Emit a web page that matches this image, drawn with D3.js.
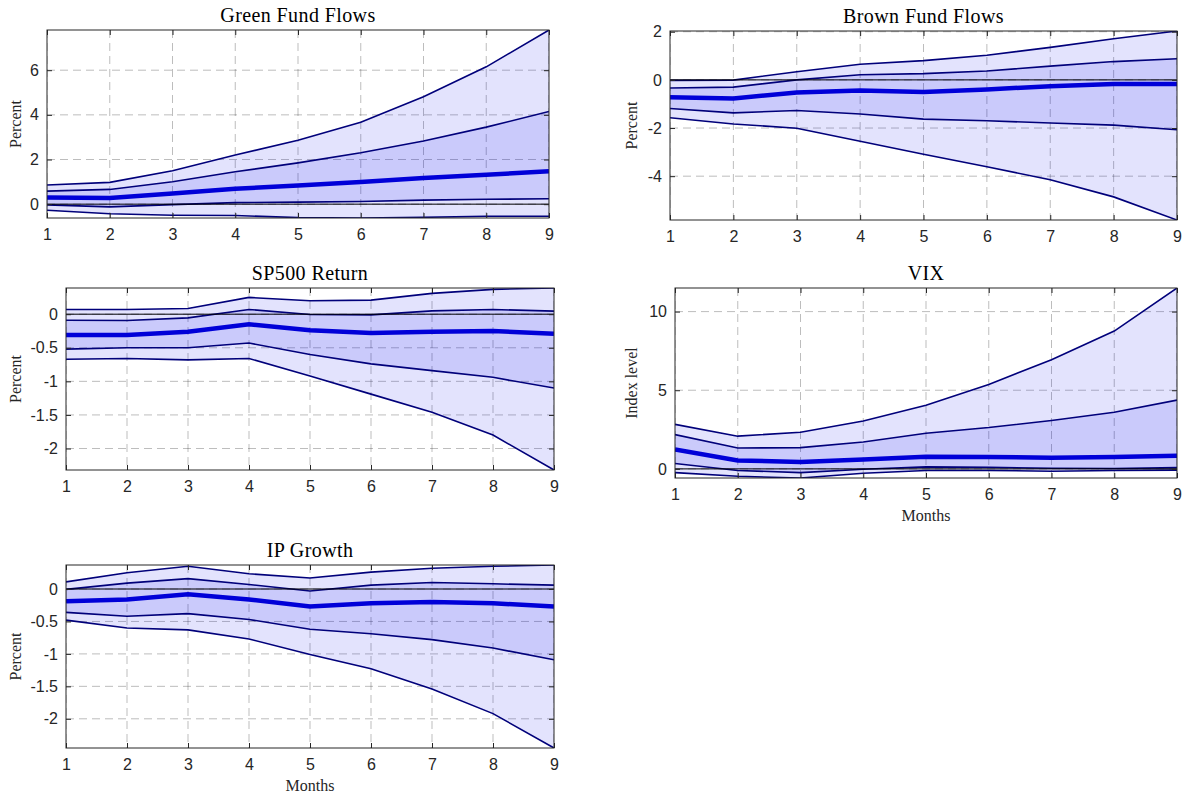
<!DOCTYPE html>
<html><head><meta charset="utf-8">
<script src="https://cdn.jsdelivr.net/npm/d3@7"></script>
<style>
body{margin:0;background:#fff;}
svg{display:block;}
.tick text{font-family:"Liberation Sans",Arial,sans-serif;font-size:16px;fill:#262626;}
.ttl{font-family:"Liberation Serif","Times New Roman",serif;font-size:20px;letter-spacing:0.4px;fill:#000;}
.lab{font-family:"Liberation Serif","Times New Roman",serif;font-size:16px;fill:#262626;}
</style></head>
<body>
<svg id="c" width="1186" height="798"></svg>
<script>
// ---- data ----
const months = [1,2,3,4,5,6,7,8,9];

const greenHi90 = [0.855,0.975,1.5,2.2,2.86,3.67,4.81,6.15,7.8];
const greenHi68 = [0.585,0.66,1.0,1.45,1.85,2.3,2.83,3.45,4.15];
const greenMed  = [0.3,0.28,0.48,0.69,0.84,0.99,1.17,1.32,1.47];
const greenLo68 = [-0.03,-0.12,-0.02,0.07,0.09,0.12,0.18,0.22,0.24];
const greenLo90 = [-0.27,-0.43,-0.5,-0.51,-0.6,-0.62,-0.59,-0.54,-0.54];
const greenTicks = [0,2,4,6];

const brownHi90 = [-0.02,-0.01,0.34,0.65,0.8,1.02,1.35,1.71,2.03];
const brownHi68 = [-0.34,-0.3,0.0,0.21,0.26,0.37,0.57,0.76,0.88];
const brownMed  = [-0.72,-0.77,-0.52,-0.44,-0.5,-0.4,-0.26,-0.17,-0.17];
const brownLo68 = [-1.19,-1.37,-1.27,-1.42,-1.63,-1.7,-1.79,-1.88,-2.07];
const brownLo90 = [-1.57,-1.83,-2.01,-2.55,-3.09,-3.61,-4.15,-4.86,-5.82];
const brownTicks = [-4,-2,0,2];

const spHi90 = [0.07,0.07,0.085,0.25,0.2,0.21,0.31,0.37,0.39];
const spHi68 = [-0.09,-0.095,-0.055,0.07,-0.005,-0.01,0.05,0.07,0.045];
const spMed  = [-0.31,-0.31,-0.26,-0.15,-0.24,-0.28,-0.26,-0.25,-0.29];
const spLo68 = [-0.52,-0.5,-0.5,-0.43,-0.6,-0.74,-0.84,-0.94,-1.1];
const spLo90 = [-0.67,-0.66,-0.68,-0.66,-0.92,-1.19,-1.46,-1.8,-2.32];
const spTicks = [-2,-1.5,-1,-0.5,0];

const vixHi90 = [2.83,2.08,2.33,3.04,4.05,5.37,6.94,8.76,11.5];
const vixHi68 = [2.18,1.33,1.35,1.71,2.27,2.63,3.08,3.6,4.37];
const vixMed  = [1.24,0.54,0.43,0.6,0.77,0.75,0.71,0.75,0.84];
const vixLo68 = [0.34,-0.1,-0.24,-0.02,0.13,0.1,0.04,0.02,0.08];
const vixLo90 = [-0.24,-0.47,-0.58,-0.28,-0.1,-0.1,-0.15,-0.1,-0.08];
const vixTicks = [0,5,10];

const ipHi90 = [0.11,0.25,0.35,0.235,0.17,0.26,0.32,0.35,0.37];
const ipHi68 = [-0.005,0.09,0.16,0.07,-0.03,0.06,0.1,0.08,0.06];
const ipMed  = [-0.19,-0.16,-0.08,-0.16,-0.27,-0.22,-0.2,-0.22,-0.27];
const ipLo68 = [-0.36,-0.42,-0.38,-0.47,-0.62,-0.69,-0.78,-0.91,-1.09];
const ipLo90 = [-0.48,-0.6,-0.63,-0.77,-1.01,-1.23,-1.54,-1.92,-2.45];
const ipTicks = [-2,-1.5,-1,-0.5,0];

const panels = [
  {title:"Green Fund Flows", ylab:"Percent", xlab:null, box:[47,30,549,218], hi90:greenHi90, hi68:greenHi68, med:greenMed, lo68:greenLo68, lo90:greenLo90, ticks:greenTicks, ylx:17},
  {title:"Brown Fund Flows", ylab:"Percent", xlab:null, box:[670,31,1177,220], hi90:brownHi90, hi68:brownHi68, med:brownMed, lo68:brownLo68, lo90:brownLo90, ticks:brownTicks, ylx:633},
  {title:"SP500 Return", ylab:"Percent", xlab:null, box:[66,288,554,470], hi90:spHi90, hi68:spHi68, med:spMed, lo68:spLo68, lo90:spLo90, ticks:spTicks, ylx:17},
  {title:"VIX", ylab:"Index level", xlab:"Months", box:[675,288,1177,478], hi90:vixHi90, hi68:vixHi68, med:vixMed, lo68:vixLo68, lo90:vixLo90, ticks:vixTicks, ylx:633},
  {title:"IP Growth", ylab:"Percent", xlab:"Months", box:[66,565,554,748], hi90:ipHi90, hi68:ipHi68, med:ipMed, lo68:ipLo68, lo90:ipLo90, ticks:ipTicks, ylx:17}
];

const svg = d3.select("#c");
const fmt = d => (d===0?"0":String(d));

panels.forEach((p,pi)=>{
  const [x0,y0,x1,y1] = p.box;
  const all = [].concat(p.hi90,p.lo90,p.hi68,p.lo68,p.med,[0]);
  const x = d3.scaleLinear().domain([1,9]).range([x0,x1]);
  const y = d3.scaleLinear().domain(d3.extent(all)).range([y1,y0]);
  const g = svg.append("g");
  const cid = "clip"+pi;
  svg.append("clipPath").attr("id",cid).append("rect").attr("x",x0).attr("y",y0).attr("width",x1-x0).attr("height",y1-y0);

  // grid
  const gg = g.append("g").attr("clip-path",`url(#${cid})`);
  gg.selectAll(".vg").data(months).join("line")
    .attr("x1",d=>x(d)).attr("x2",d=>x(d)).attr("y1",y0).attr("y2",y1)
    .attr("stroke","#262626").attr("stroke-opacity",0.3).attr("stroke-width",1).attr("stroke-dasharray","8,5");
  gg.selectAll(".hg").data(p.ticks).join("line")
    .attr("y1",d=>y(d)).attr("y2",d=>y(d)).attr("x1",x0).attr("x2",x1)
    .attr("stroke","#262626").attr("stroke-opacity",0.3).attr("stroke-width",1).attr("stroke-dasharray","8,5");

  const rows = months.map((m,i)=>({m,hi90:p.hi90[i],hi68:p.hi68[i],med:p.med[i],lo68:p.lo68[i],lo90:p.lo90[i]}));
  const dg = g.append("g").attr("clip-path",`url(#${cid})`);
  const area = (lo,hi)=>d3.area().x(d=>x(d.m)).y0(d=>y(d[lo])).y1(d=>y(d[hi]));
  dg.append("path").attr("d",area("lo90","hi90")(rows)).attr("fill","rgb(0,0,235)").attr("fill-opacity",0.11);
  dg.append("path").attr("d",area("lo68","hi68")(rows)).attr("fill","rgb(0,0,235)").attr("fill-opacity",0.11);
  const line = k=>d3.line().x(d=>x(d.m)).y(d=>y(d[k]));
  ["hi90","lo90","hi68","lo68"].forEach(k=>{
    dg.append("path").attr("d",line(k)(rows)).attr("fill","none").attr("stroke","#00007a").attr("stroke-width",1.6);
  });
  dg.append("path").attr("d",line("med")(rows)).attr("fill","none").attr("stroke","#0000d8").attr("stroke-width",4.5);
  dg.append("line").attr("x1",x0).attr("x2",x1).attr("y1",y(0)).attr("y2",y(0)).attr("stroke","#000").attr("stroke-width",1);

  // axes
  const ax = g.append("g").attr("transform",`translate(0,${y1})`)
    .call(d3.axisBottom(x).tickValues(months).tickSizeInner(-5).tickSizeOuter(0).tickPadding(11).tickFormat(d3.format("d")));
  const ay = g.append("g").attr("transform",`translate(${x0},0)`)
    .call(d3.axisLeft(y).tickValues(p.ticks).tickSizeInner(-5).tickSizeOuter(0).tickPadding(8).tickFormat(fmt));
  const at = g.append("g").attr("transform",`translate(0,${y0})`)
    .call(d3.axisTop(x).tickValues(months).tickSizeInner(-5).tickSizeOuter(0).tickFormat(""));
  const ar = g.append("g").attr("transform",`translate(${x1},0)`)
    .call(d3.axisRight(y).tickValues(p.ticks).tickSizeInner(-5).tickSizeOuter(0).tickFormat(""));
  [ax,ay,at,ar].forEach(a=>{a.select(".domain").remove();a.selectAll(".tick line").attr("stroke","#262626");});
  g.append("rect").attr("x",x0).attr("y",y0).attr("width",x1-x0).attr("height",y1-y0)
    .attr("fill","none").attr("stroke","#262626").attr("stroke-width",1);

  g.append("text").attr("class","ttl").attr("x",(x0+x1)/2).attr("y",y0-8).attr("text-anchor","middle").text(p.title);
  g.append("text").attr("class","lab").attr("transform",`translate(${p.ylx},${(y0+y1)/2}) rotate(-90)`)
    .attr("text-anchor","middle").attr("dominant-baseline","middle").text(p.ylab);
  if(p.xlab) g.append("text").attr("class","lab").attr("x",(x0+x1)/2).attr("y",y1+43).attr("text-anchor","middle").text(p.xlab);
});
</script>
</body></html>
